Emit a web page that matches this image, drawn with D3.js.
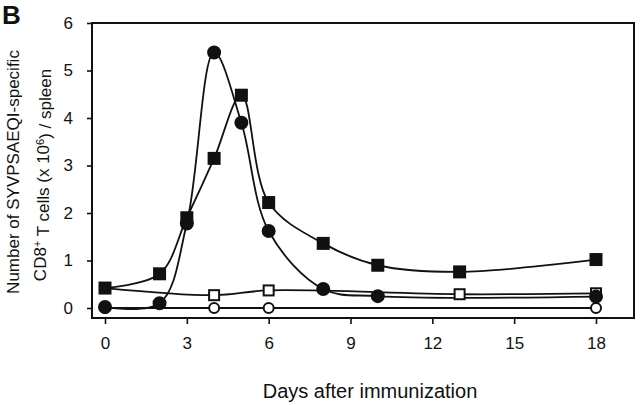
<!DOCTYPE html>
<html>
<head>
<meta charset="utf-8">
<script src="https://cdn.jsdelivr.net/npm/d3@7"></script>
<style>
  body { margin: 0; background: #fff; }
  svg { display: block; font-family: "Liberation Sans", Arial, sans-serif; }
</style>
</head>
<body>
<script>
// days after immunization and cell counts (x 10^6 / spleen)
const xTicks = [0, 3, 6, 9, 12, 15, 18];
const yTicks = [0, 1, 2, 3, 4, 5, 6];

const filledSquareDays = [0, 2, 3, 4, 5, 6, 8, 10, 13, 18];
const filledSquareVals = [0.42, 0.72, 1.9, 3.15, 4.48, 2.22, 1.36, 0.9, 0.76, 1.02];

const filledCircleDays = [0, 2, 3, 4, 5, 6, 8, 10, 18];
const filledCircleVals = [0.02, 0.1, 1.78, 5.38, 3.9, 1.62, 0.4, 0.25, 0.24];

const openSquareDays = [0, 4, 6, 13, 18];
const openSquareVals = [0.42, 0.27, 0.37, 0.29, 0.31];

const openCircleDays = [0, 4, 6, 18];
const openCircleVals = [0, 0, 0, 0];

const width = 640, height = 405;
const frame = {left: 92, right: 634, top: 23, bottom: 318};

const svg = d3.select("body").append("svg")
  .attr("width", width)
  .attr("height", height);

const x = d3.scaleLinear().domain([0, 18]).range([105, 596]);
const y = d3.scaleLinear().domain([0, 6]).range([308, 23]);

// frame
svg.append("rect")
  .attr("x", frame.left).attr("y", frame.top)
  .attr("width", frame.right - frame.left)
  .attr("height", frame.bottom - frame.top)
  .attr("fill", "none").attr("stroke", "#111").attr("stroke-width", 2);

// y axis
const yAxis = svg.append("g")
  .attr("transform", `translate(${frame.left},0)`)
  .call(d3.axisLeft(y).tickValues(yTicks).tickFormat(d3.format("d"))
    .tickSize(5).tickPadding(14));
yAxis.select(".domain").remove();
yAxis.selectAll("line").attr("stroke", "#111").attr("stroke-width", 1.6);
yAxis.selectAll("text").attr("font-size", 17).attr("fill", "#111")
  .attr("font-family", "Liberation Sans, Arial, sans-serif");

// x axis
const xAxis = svg.append("g")
  .attr("transform", `translate(0,${frame.bottom})`)
  .call(d3.axisBottom(x).tickValues(xTicks).tickFormat(d3.format("d"))
    .tickSize(6).tickPadding(13));
xAxis.select(".domain").remove();
xAxis.selectAll("line").attr("stroke", "#111").attr("stroke-width", 1.6);
xAxis.selectAll("text").attr("font-size", 17).attr("fill", "#111")
  .attr("font-family", "Liberation Sans, Arial, sans-serif");

// axis titles
svg.append("text")
  .attr("x", 370).attr("y", 398)
  .attr("text-anchor", "middle")
  .attr("font-size", 20).attr("fill", "#111")
  .text("Days after immunization");

svg.append("text")
  .attr("transform", "translate(13,172) rotate(-90)")
  .attr("text-anchor", "middle").attr("dy", "0.35em")
  .attr("font-size", 17).attr("fill", "#111")
  .text("Number of SYVPSAEQI-specific");

const l2 = svg.append("text")
  .attr("transform", "translate(40,175) rotate(-90)")
  .attr("text-anchor", "middle").attr("dy", "0.35em")
  .attr("font-size", 17).attr("fill", "#111");
l2.append("tspan").text("CD8");
l2.append("tspan").attr("dy", "-0.45em").attr("font-size", 11).text("+");
l2.append("tspan").attr("dy", "0.45em").text(" T cells (x 10");
l2.append("tspan").attr("dy", "-0.45em").attr("font-size", 11).text("6");
l2.append("tspan").attr("dy", "0.45em").text(") / spleen");

// panel letter
svg.append("text")
  .attr("x", 2).attr("y", 24)
  .attr("font-size", 26).attr("font-weight", "bold").attr("fill", "#111")
  .text("B");

const series = [
  {days: openCircleDays, vals: openCircleVals, shape: "circle", fill: "#fff"},
  {days: openSquareDays, vals: openSquareVals, shape: "square", fill: "#fff"},
  {days: filledCircleDays, vals: filledCircleVals, shape: "circle", fill: "#111"},
  {days: filledSquareDays, vals: filledSquareVals, shape: "square", fill: "#111"}
];

const line = d3.line()
  .x(d => x(d[0])).y(d => y(d[1]))
  .curve(d3.curveCatmullRom.alpha(0.5));

series.forEach(s => {
  const pts = s.days.map((d, i) => [d, s.vals[i]]);
  svg.append("path")
    .attr("d", line(pts))
    .attr("fill", "none").attr("stroke", "#111").attr("stroke-width", 1.8);
});

series.forEach(s => {
  const pts = s.days.map((d, i) => [d, s.vals[i]]);
  const g = svg.append("g");
  if (s.shape === "circle") {
    g.selectAll("circle").data(pts).join("circle")
      .attr("cx", d => x(d[0])).attr("cy", d => y(d[1]))
      .attr("r", s.fill === "#fff" ? 5 : 6)
      .attr("fill", s.fill).attr("stroke", "#111").attr("stroke-width", 2);
  } else {
    const h = s.fill === "#fff" ? 5 : 5.5;
    g.selectAll("rect").data(pts).join("rect")
      .attr("x", d => x(d[0]) - h).attr("y", d => y(d[1]) - h)
      .attr("width", 2 * h).attr("height", 2 * h)
      .attr("fill", s.fill).attr("stroke", "#111").attr("stroke-width", 2);
  }
});
</script>
</body>
</html>
